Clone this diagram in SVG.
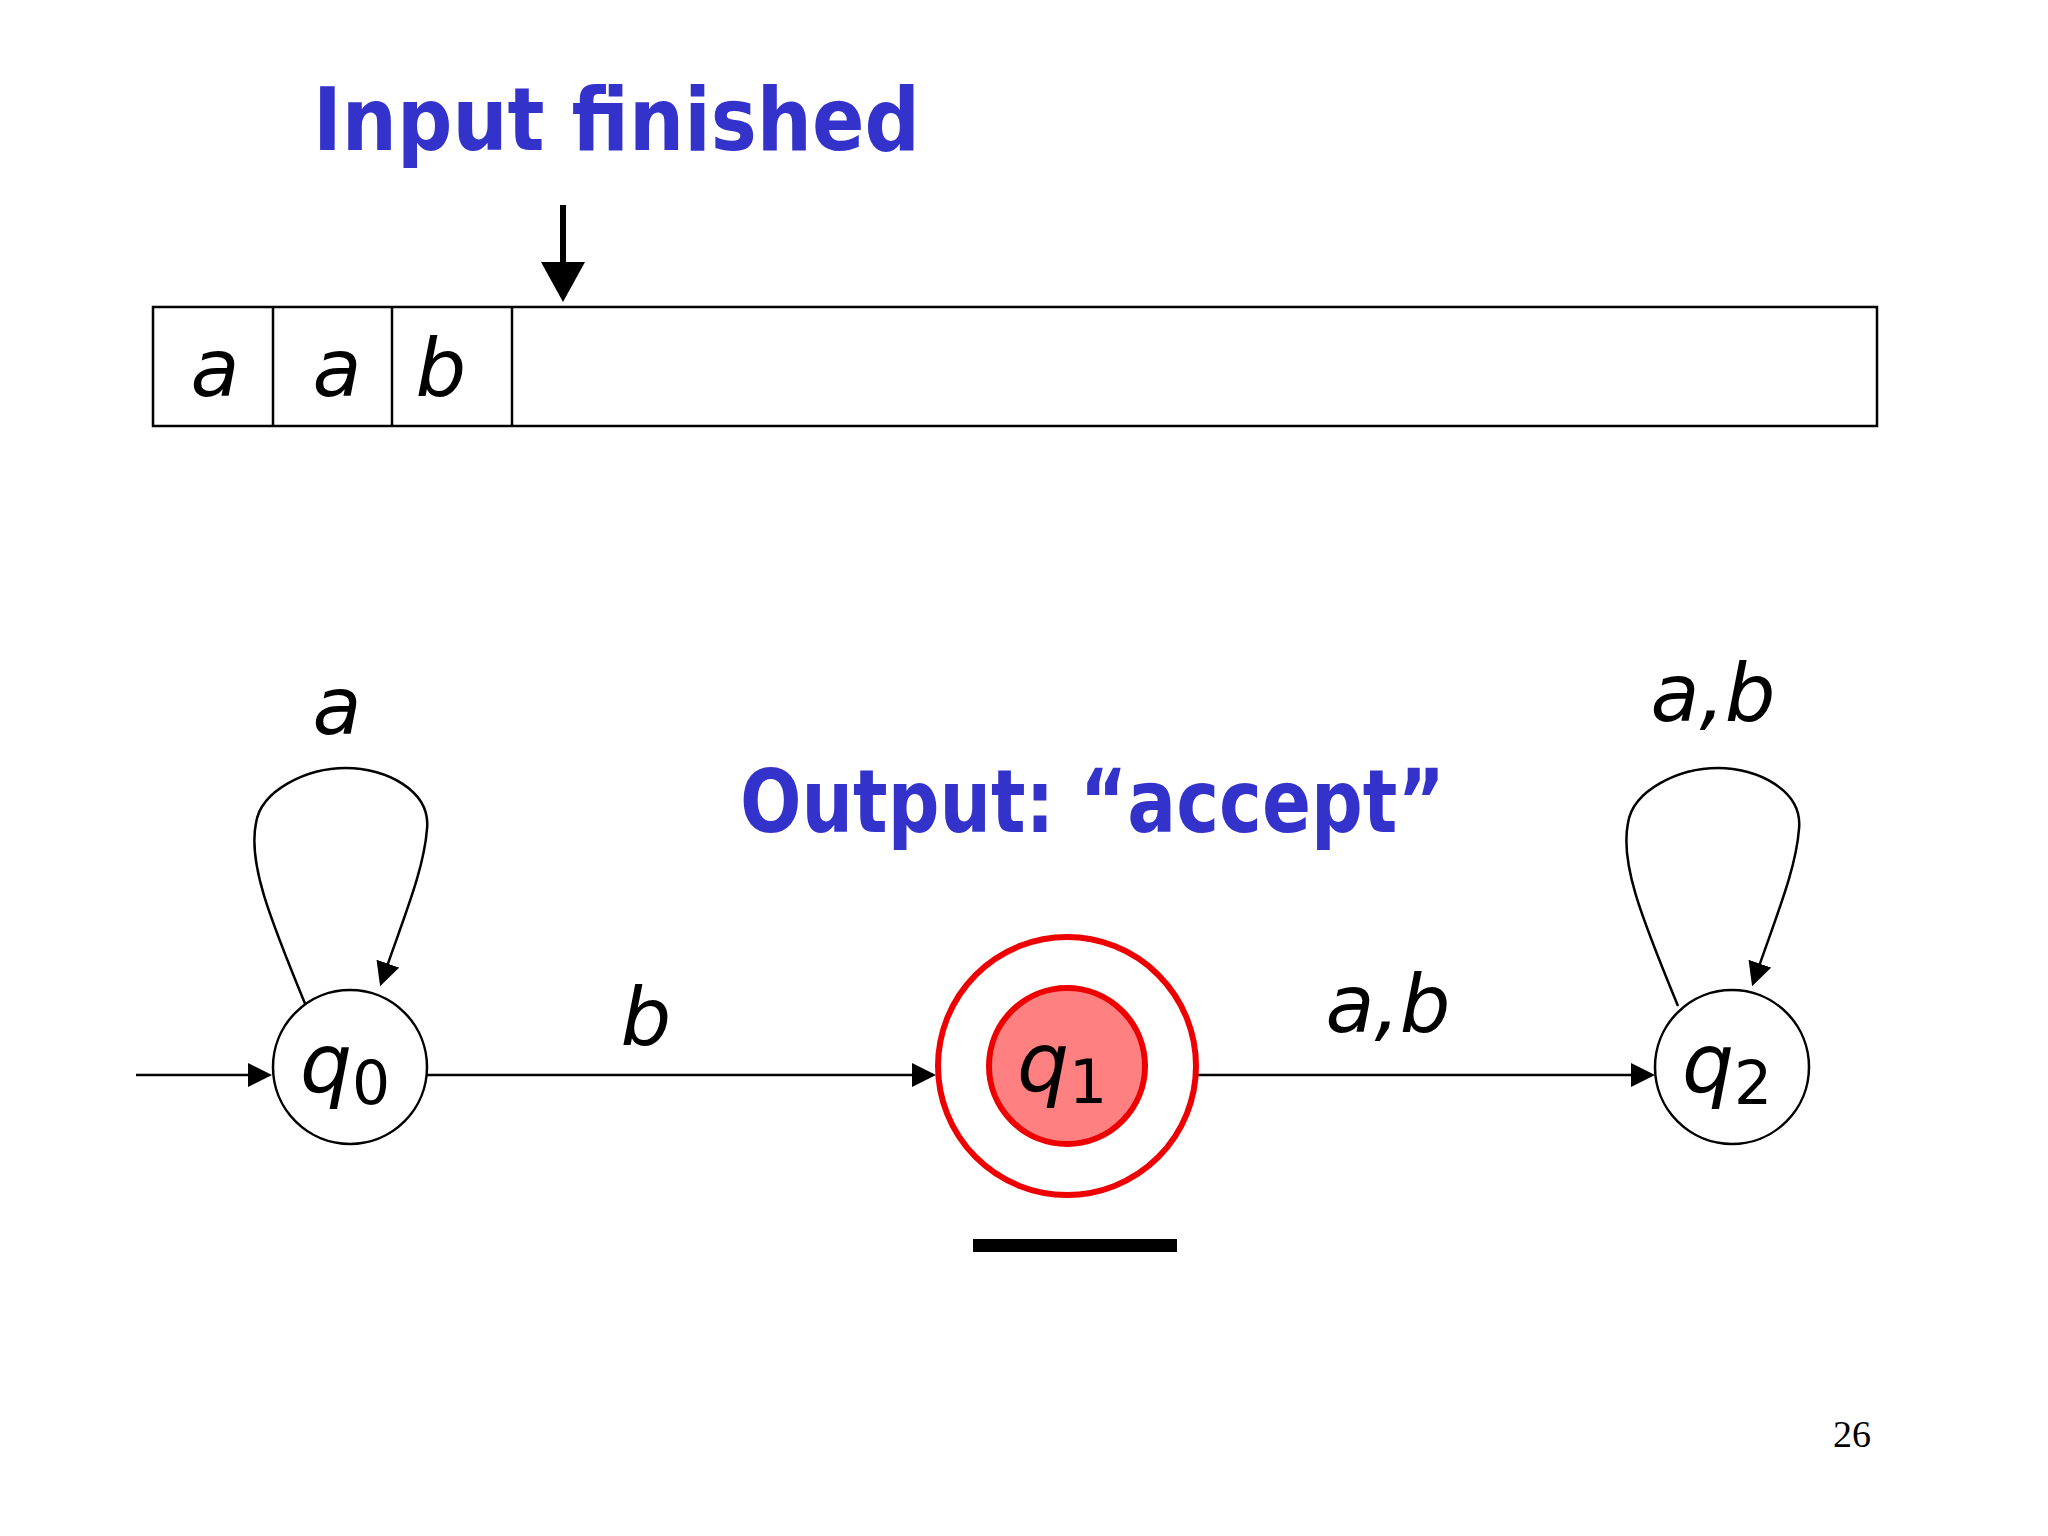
<svg xmlns="http://www.w3.org/2000/svg" width="2048" height="1536" viewBox="0 0 2048 1536">
<style>
.blue{font-family:"DejaVu Sans",sans-serif;fill:#3333cc;font-weight:bold}
.sym{font-family:"DejaVu Sans",sans-serif;font-style:italic;fill:#000}
.ln{stroke:#000;stroke-width:2.5;fill:none}
</style>
<defs>
<marker id="ah2" markerWidth="24" markerHeight="24" refX="12" refY="12" orient="auto" markerUnits="userSpaceOnUse" viewBox="0 0 24 24"><path d="M0,0 L24,12 L0,24 z" fill="#000"/></marker>
<marker id="ah3" markerWidth="40" markerHeight="44" refX="4" refY="22" orient="auto" markerUnits="userSpaceOnUse" viewBox="0 0 40 44"><path d="M0,0 L40,22 L0,44 z" fill="#000"/></marker>
</defs>
<rect width="2048" height="1536" fill="#fff"/>
<text class="blue" x="313" y="150" font-size="88" textLength="607" lengthAdjust="spacingAndGlyphs">Input finished</text>
<g id="tape">
<rect x="153" y="307" width="1724" height="119" fill="none" stroke="#000" stroke-width="2.5"/>
<line class="ln" x1="273" y1="307" x2="273" y2="426"/>
<line class="ln" x1="392" y1="307" x2="392" y2="426"/>
<line class="ln" x1="512" y1="307" x2="512" y2="426"/>
<text class="sym" x="215" y="396" font-size="80" text-anchor="middle">a</text>
<text class="sym" x="337" y="396" font-size="80" text-anchor="middle">a</text>
<text class="sym" x="441" y="396" font-size="80" text-anchor="middle">b</text>
</g>
<g id="connectors">
<line x1="563" y1="205" x2="563" y2="266" stroke="#000" stroke-width="6" marker-end="url(#ah3)"/>
<line class="ln" x1="136" y1="1075" x2="260" y2="1075" marker-end="url(#ah2)"/>
<line class="ln" x1="427" y1="1075" x2="924" y2="1075" marker-end="url(#ah2)"/>
<line class="ln" x1="1196" y1="1075" x2="1643" y2="1075" marker-end="url(#ah2)"/>
<path class="ln" d="M306,1006 C268,914 248,862 256,823 C261,790 307,768 346,768 C385,768 431,790 427,829 C424,869 405,914 384,975" marker-end="url(#ah2)"/>
<path class="ln" d="M1678,1006 C1640,914 1620,862 1628,823 C1633,790 1679,768 1718,768 C1757,768 1803,790 1799,829 C1796,869 1777,914 1756,975" marker-end="url(#ah2)"/>
<text class="sym" x="646" y="1045" font-size="80" text-anchor="middle">b</text>
<text class="sym" x="1388" y="1032" font-size="80" text-anchor="middle">a,b</text>
<text class="sym" x="337" y="734" font-size="80" text-anchor="middle">a</text>
<text class="sym" x="1713" y="721" font-size="80" text-anchor="middle">a,b</text>
</g>
<g id="q0">
<circle cx="350" cy="1067" r="77" fill="#fff" stroke="#000" stroke-width="2.5"/>
<text class="sym" x="345" y="1092" font-size="82" text-anchor="middle">q<tspan font-size="60" dy="12" font-style="normal">0</tspan></text>
</g>
<g id="q1">
<circle cx="1067" cy="1066" r="129" fill="#fff" stroke="#ee0000" stroke-width="6"/>
<circle cx="1067" cy="1066" r="78" fill="#ff8080" stroke="#ee0000" stroke-width="6"/>
<text class="sym" x="1062" y="1091" font-size="82" text-anchor="middle">q<tspan font-size="60" dy="12" font-style="normal">1</tspan></text>
</g>
<g id="q2">
<circle cx="1732" cy="1067" r="77" fill="#fff" stroke="#000" stroke-width="2.5"/>
<text class="sym" x="1727" y="1092" font-size="82" text-anchor="middle">q<tspan font-size="60" dy="12" font-style="normal">2</tspan></text>
</g>
<text class="blue" x="740" y="832" font-size="88" textLength="705" lengthAdjust="spacingAndGlyphs">Output: “accept”</text>
<rect x="973" y="1239" width="204" height="13" fill="#000"/>
<text x="1852" y="1447" font-family="Liberation Serif,serif" font-size="38" text-anchor="middle">26</text>
</svg>
